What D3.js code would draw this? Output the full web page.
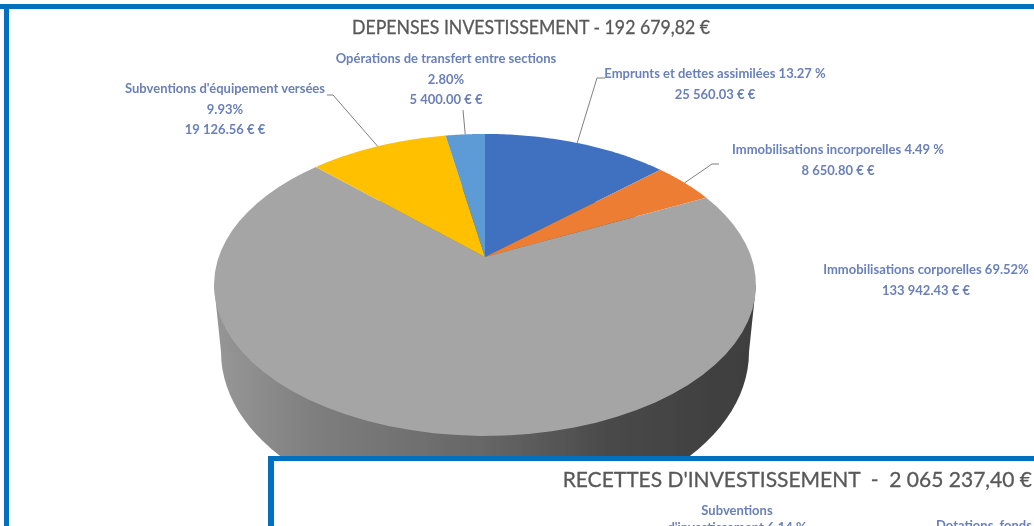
<!DOCTYPE html>
<html>
<head>
<meta charset="utf-8">
<script src="https://cdn.jsdelivr.net/npm/d3@7"></script>
<style>
  html, body { margin: 0; padding: 0; background: #fff; }
  svg { display: block; }
  text { font-family: Lato, "Open Sans", sans-serif; white-space: pre; }
</style>
</head>
<body>
<svg id="chart" width="1034" height="526"></svg>
<script>
const categories = [
  "Emprunts et dettes assimilées",
  "Immobilisations incorporelles",
  "Immobilisations corporelles",
  "Subventions d'équipement versées",
  "Opérations de transfert entre sections",
];
const amounts = [25560.03, 8650.8, 133942.43, 19126.56, 5400.0];
const percentLabels = ["13.27 %", "4.49 %", "69.52%", "9.93%", "2.80%"];
const amountLabels = ["25 560.03 € €", "8 650.80 € €", "133 942.43 € €", "19 126.56 € €", "5 400.00 € €"];
const sliceColors = ["#3f6fc0", "#ed7d31", "#a5a5a5", "#ffc000", "#5b9bd5"];

const title = "DEPENSES INVESTISSEMENT - 192 679,82 €";
const lowerTitle = "RECETTES D'INVESTISSEMENT  -  2 065 237,40 €";

const width = 1034;
const height = 526;
const svg = d3.select("#chart");
const labelColor = "#6a80b8";

const defs = svg.append("defs");
defs.append("filter").attr("id", "soft").append("feGaussianBlur").attr("stdDeviation", 0.6);
const wallGrad = defs.append("linearGradient").attr("id", "wall");
[[0, "#969696"], [0.18, "#7e7e7e"], [0.5, "#666"], [0.75, "#484848"], [1, "#3e3e3e"]].forEach(([o, c]) =>
  wallGrad.append("stop").attr("offset", o).attr("stop-color", c)
);

// perspective view of the tilted disc: the centre sits above the middle of the ellipse
const cx = 485;
const cy = 257;
const rx = 266.3;
const ry = 145.8;
const tilt = 0.185;
const project = (a) => {
  const k = 1 + tilt * Math.cos(a);
  return [cx + (rx * Math.sin(a)) / k, cy - (ry * Math.cos(a)) / k];
};

const pie = d3.pie().sort(null).value((d) => d);
const arcs = pie(amounts);
const line = d3.line();
const rimPoints = (a0, a1) =>
  d3.range(0, 61).map((i) => project(a0 + ((a1 - a0) * i) / 60));

// side wall, the lower rim is a bit narrower and lower than the top one
const wallCy = 352;
const wallRx = 264;
const wallRy = 165;
const wallPoints = d3.range(0, 121).map((i) => {
  const a = (Math.PI * 2 * i) / 120;
  return [cx + wallRx * Math.sin(a), wallCy - wallRy * Math.cos(a)];
});
svg.append("path")
  .attr("d", line(wallPoints) + "Z")
  .attr("fill", "url(#wall)")
  .attr("filter", "url(#soft)");
svg.append("path")
  .attr("d", line([[cx - 271, 285], [cx - wallRx, wallCy], [cx + wallRx, wallCy], [cx + 271, 285]]) + "Z")
  .attr("fill", "url(#wall)")
  .attr("filter", "url(#soft)");

svg.selectAll("path.slice")
  .data(arcs)
  .join("path")
  .attr("class", "slice")
  .attr("d", (d) => line([[cx, cy], ...rimPoints(d.startAngle, d.endAngle)]) + "Z")
  .attr("fill", (d, i) => sliceColors[i])
  .attr("filter", "url(#soft)");

// label anchors: centre x and first line y
const labelPos = [
  { x: 715, y: 78, lines: (i) => [categories[i] + " " + percentLabels[i], amountLabels[i]], elbow: [-118, 0] },
  { x: 838, y: 154, lines: (i) => [categories[i] + " " + percentLabels[i], amountLabels[i]], elbow: [-126, 10] },
  { x: 926, y: 274, lines: (i) => [categories[i] + " " + percentLabels[i], amountLabels[i]] },
  { x: 225, y: 93, lines: (i) => [categories[i], percentLabels[i], amountLabels[i]], elbow: [108, 2] },
  { x: 446, y: 63, lines: (i) => [categories[i], percentLabels[i], amountLabels[i]], elbow: [17, 47] },
];

const leaders = svg.append("g").attr("fill", "none").attr("stroke", "#7f7f7f").attr("stroke-width", 1);
arcs.forEach((d, i) => {
  const pos = labelPos[i];
  if (!pos.elbow) return;
  const elbow = [pos.x + pos.elbow[0], pos.y + pos.elbow[1]];
  const end = project((d.startAngle + d.endAngle) / 2);
  const pts = i === 0 ? [[elbow[0] + 8, elbow[1]], elbow, end]
    : i === 1 ? [[elbow[0] + 7, elbow[1]], elbow, end]
    : i === 3 ? [[elbow[0] - 6, elbow[1]], elbow, end]
    : [elbow, end];
  leaders.append("path").attr("d", line(pts));
});

const labels = svg.append("g")
  .attr("text-anchor", "middle")
  .attr("fill", labelColor)
  .attr("font-size", 13)
  .attr("font-weight", 700)
  .attr("filter", "url(#soft)");
arcs.forEach((d, i) => {
  const pos = labelPos[i];
  pos.lines(i).forEach((t, j) => {
    labels.append("text").attr("x", pos.x).attr("y", pos.y + j * 20.5).text(t);
  });
});

svg.append("text")
  .attr("x", 531)
  .attr("y", 34)
  .attr("text-anchor", "middle")
  .attr("font-size", 19)
  .attr("textLength", 358)
  .attr("lengthAdjust", "spacingAndGlyphs")
  .attr("fill", "#595959")
  .attr("stroke", "#595959")
  .attr("stroke-width", 0.3)
  .attr("filter", "url(#soft)")
  .text(title);

// outer frame: top and left only, the crop cuts the rest
svg.append("rect").attr("x", 0).attr("y", 4).attr("width", width).attr("height", 5).attr("fill", "#0070c0");
svg.append("rect").attr("x", 4).attr("y", 4).attr("width", 5).attr("height", height).attr("fill", "#0070c0");

// second chart panel laid over the corner
svg.append("rect").attr("x", 268).attr("y", 456).attr("width", width - 268).attr("height", height - 456).attr("fill", "#0070c0");
svg.append("rect").attr("x", 274).attr("y", 461).attr("width", width - 274).attr("height", height - 461).attr("fill", "#fff");

svg.append("text")
  .attr("x", 1032)
  .attr("y", 487)
  .attr("text-anchor", "end")
  .attr("font-size", 21)
  .attr("fill", "#595959")
  .attr("stroke", "#595959")
  .attr("stroke-width", 0.3)
  .attr("filter", "url(#soft)")
  .text(lowerTitle);

// the window cuts these lines at the bottom, as in the source picture
const lowerLabels = svg.append("g")
  .attr("fill", labelColor)
  .attr("font-size", 13)
  .attr("font-weight", 700)
  .attr("filter", "url(#soft)");
lowerLabels.append("text").attr("x", 737).attr("y", 515).attr("text-anchor", "middle").text("Subventions");
lowerLabels.append("text").attr("x", 737).attr("y", 532).attr("text-anchor", "middle").text("d'investissement 6.14 %");
lowerLabels.append("text").attr("x", 936).attr("y", 530).text("Dotations, fonds");
</script>
</body>
</html>
